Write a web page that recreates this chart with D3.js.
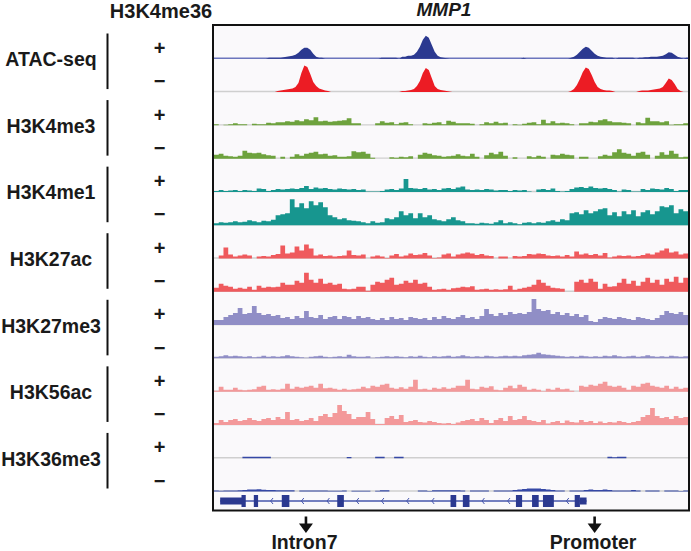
<!DOCTYPE html>
<html><head><meta charset="utf-8">
<script src="https://cdn.jsdelivr.net/npm/d3@7"></script>
<style>html,body{margin:0;padding:0;background:#fff;}svg{display:block;}</style>
</head><body>
<svg id="chart" width="691" height="551"></svg>
<script>
// ---------- DATA ----------
const markNames = ["ATAC-seq","H3K4me3","H3K4me1","H3K27ac","H3K27me3","H3K56ac","H3K36me3"];
const strandLabels = ["+","\u2212"];
const headerLabel = "H3K4me36";
const geneName = "MMP1";
const regionKb = [0, 10];

// ATAC-seq, 160 bins across the window
const atacPlus = [0,0,0,0,0,0,0,0,0,0, 0,0,0,0,0,0,0,0,1,1, 1,1,1,1.5,2,2.5,3,4,6,9, 11,11,9,5,2,1,1,0,0,0, 0,0,0,0,0,0,0,0,0,0, 0,0,0,0,0,0,1,1,1,1, 1,1,0,2,2,3,3,4,7,12, 19,23,21,14,7,3,1.5,1,0.5,0, 0,0,0,0,0,0,0,0,0,0, 0,0,0,0,0,0,0,0,0,0, 0,0,0,0,1,0,0,0,0,0, 0,0,0,0,0,0,0,0,0,0, 1,2,4,7,10,12,11,8,5,3, 2,1.5,1,1,1,0,1,1,1,1, 1,1,0,1,1,1.5,1.5,2,2,2, 2.5,3,4.5,6.5,6,4,2,1,0,1];
const atacMinus = [0,0,0,0,0,0,0,0,0,0, 0,0,0,0,0,0,0,0,0,0, 0,1,1.5,2,2.5,3,3.5,5,9,19, 26.5,25,18,10,6,3.5,2.5,1.5,1,0, 0,0,0,0,0,0,0,0,0,0, 0,0,0,0,0,0,0,0,0,0, 0,0,0,1,1,1.5,2,3,6,11, 19,24,22,14,6,3,2,1.5,1,0.5, 0,0,0,0,0,0,0,0,0,0, 0,0,0,0,0,0,0,0,0,0, 0,0,0,0,0,0,0,0,0,0, 0,0,0,0,0,0,0,0,0,0, 1,3,7,13,20,24.5,23,17,10,5, 3,2,1.5,1.5,1,0,0,0,0,0, 0,0,0,1,1.5,1.5,1.5,2,2.5,3, 3.5,5,9,13.5,12,8,3,1,0,0];

// histone tracks, 100 bins across the window
const k4me3Plus = [1,0,0.5,1,2,1,1,0,1.5,1, 1,2.5,2,3,3,4,3.5,5,4,6, 5,8,4,4.5,3.5,4,4.5,5,7,2, 2,0,0,0,2,4,2.5,3,1,2.5, 3,1,0,0,2,1.5,2.5,3,1,4.5, 3.5,2,2,2,1.5,0,1,3,2,3.5, 2,2.5,0,1,0.5,1.5,2.5,3,1,5.5, 2,4,2,2.5,2,1,0,2,2,3.5, 3,5,6,4,3,3,2.5,2,0,3, 2,7.5,4,4,3,4,0.5,1,1,2];
const k4me3Minus = [4,5,3,2.5,2,3,8,6,5.5,6, 4.5,3.5,3,0,2,0,2,4.5,3,5, 6,7,4.5,5,3,3.5,2,2,2.5,7.5, 6.5,7,5,1,0,0,0,1.5,1,2, 1.5,2.5,0,4,6,5,3.5,3,2,2.5, 3,4.5,3,2.5,5,2,0,3.5,6,4.5, 7,3,0,1.5,0,0,2.5,1.5,3,2, 0,4,3.5,5,4,3.5,0,2,2,0, 0,2.5,4,3,6.5,9.5,6,5,3,6, 7,4,0,3,6.5,4,8,5,1.5,2];
const k4me1Plus = [1,2,1,1.5,2,1,2,1.5,1,3.5, 3,1,2,3,2.5,3,3.5,3,4,6, 3,4.5,3.5,4,3,2.5,3.5,3,2.5,3, 2,2.5,0.5,0.5,0.5,1,2.5,3,2,3.5, 13,4,3.5,3,4,2.5,3,2,3.5,4, 3,4.5,5.5,2.5,2,2.5,2,3,2.5,1.5, 2,2,1,2,1.5,2,0.5,0,2.5,3, 2,3.5,1,0.5,1,3,4.5,5,4,5.5, 4,3.5,4,3,2,0.5,2.5,2,0.5,0.5, 3,2,3.5,3,2.5,4,3,1,2,2];
const k4me1Minus = [2,3,2.5,3,4,3,3.5,5,4,3, 4.5,4,5.5,10,11,12,26,18,22,17, 24,20,23,18,10,8,6,7,5,4.5, 4,3,2,4,2.5,3,7,6,8,14, 10,12,7,12,8,10,6,5,4,6, 8,5,4,2,2,1.5,2.5,2,1.5,3, 5,2,3,2,1,2.5,3,2,3,2.5, 4,5,3.5,6,5,12,13,11,15,12, 14,16,17,10,13,9,14,11,15,9, 13,15,11,14,19,18,20,12,16,14];
const k27acPlus = [0,3,11,4,2,3,4,3,0,2, 2.5,2,3.5,4.5,13,5,6,12,8,14, 10,3,4,2.5,3,2,2.5,3,8,3.5, 3,4,0,2,3,2,0.5,3,4.5,2, 3,5,3.5,4,5.5,3,0.5,1,4,5, 2,4,5,6,5,3.5,4.5,3,2.5,0, 2,2,0,2.5,2,2.5,4.5,4,5,4.5, 3,2.5,3,2,3.5,2,7,4,5,3.5, 4.5,3,5.5,1,2,3,2.5,3,2,2.5, 3.5,5,4,6,8,10,6,7,4,5];
const k27acMinus = [4,8,6,5,3,4,3,5,2,6, 4,5,4.5,5,9,7,7,11,9,19, 12,9,13,8,9,7,8,3,2.5,3, 5,5,1,7,10,9,12,14,7,8, 11,9,12,8,9,5,2,2.5,3,2, 3.5,4,5,4.5,5.5,2,2.5,3,2,2.5, 2,2.5,6,2,3,4,5,7,12,9, 6,4,3.5,3,0,0,10,12,9,13, 10,3,8,5,5.5,9,13,8,11,6, 10,14,9,12,7,13,10,15,9,14];
const k27me3Plus = [5,5,8,10,12,17,11,12,19,12, 10,11,9,10,7,8,6,9,7,14, 8,7,10,6,8,9,6,9,8,6, 9,7,8,6,5,7,5,8,6,7, 5,8,7,6,7,5,8,6,9,7, 6,8,10,7,8,6,9,16,11,9, 12,10,13,11,12,11,13,26,16,14, 15,11,13,10,12,9,11,8,10,4, 3,6,8,7,6,8,7,6,5,8, 7,6,5,7,10,14,12,11,13,10];
const k27me3Minus = [1.5,2,3,2,2.5,2,1.5,2,1,1.5, 2.5,1.5,2,1.5,2,3,2,1.5,1,0.5, 1.5,2,2.5,1.5,1,1.5,2,1.5,3.5,2, 1.5,1.5,2,0.5,1,1.5,2,1.5,2,1.5, 1,2,1.5,2.5,1.5,1,2,1.5,2,2.5, 1.5,2,3,2,1.5,2,1.5,2.5,2,1.5, 2,2.5,2,2.5,2,3,3.5,4,5.5,4, 3.5,3,2.5,2,1.5,2,1.5,2.5,2,1.5, 2,1.5,2.5,2,3,2,1.5,2,2.5,1.5, 2,3,2,1.5,2,1.5,2.5,2,1.5,2];
const k56acPlus = [1,5,2,2,4,2,1.5,2,2.5,5, 6,2,2.5,2,3,8,3,5,4,5, 6,4,8,3.5,4,3,2,3,2,2.5, 3,5,3.5,6,5,7,8,4,3,4.5, 3,5,12,2.5,3,2,4,3,4.5,3, 4,6,6,12,3,2.5,5,4,5.5,2, 1.5,4,6,3.5,7,5,2,3,2,0.5, 3,2,4,2.5,3,1,0,6,5,7, 6,8,10,6,5,6,4,2,6,5, 8,9,6,5,4,6,3,5,3,4];
const k56acMinus = [2,5,3,5,6,4,5,7,5,4, 6,7,5,8,6,13,5,6,4,5, 7,4,9,11,8,12,20,14,11,6, 8,8,13,6,1,1,7,9,6,10, 3,4,5,3,2.5,4,3,2,1.5,2, 1,2.5,4,5,6,4,7,5,2,5, 7,4,9,5,6,9,5,4,3,5, 1.5,3,4,2,4.5,3,2.5,5,3,4, 2,3.5,2,3,2.5,4,3,2,3,4, 8,10,17,9,7,8,6,9,7,8];
const k36me3Plus = [0,0,0,0,0,0,1.5,1.5,1.5,1.5, 1.5,1.5,0,0,0,0,0,0,0,0, 0,0,0,0,0,0,0,0,1.2,0, 0,0,0,0,1.5,1.5,0,0,1.5,1.5, 0,0,0,0,0,0,0,0,0,0, 0,0,0,0,0,0,0,0,0,0, 0,0,0,0,0,0,0,0,0,0, 0,0,0,0,0,0,0,0,0,0, 0,0,0,1.5,1,1.5,1.5,0,0,0, 0,0,0,0,0,0,0,0,0,0];
const k36me3Minus = [1,0.8,1,1,1,1.2,1.5,2,2,2.2, 1.8,1.5,1.5,1.3,1.2,1.2,1.2,0,1,1, 1,1,1,1,0.8,0.8,0.8,1,0,0.8, 0.8,0.8,0.8,0,0.8,1.2,1.2,0,0,0, 0,0,0,1,1,0.5,1.2,1.2,1.2,1.2, 1.2,1.2,1,0,1,1,1,1,0,1, 1,1,1,1.5,2,2.5,3,3,3,2.5, 2,1.5,1,1,0,1,1,1,1.5,2, 1.5,1.5,2,1.5,1,1,1,1,1.5,1, 0,1,1,1,0,1,1,1,0.5,1];

// gene model (kb within window)
const geneSpan = [0.13, 7.86];
const utrStart = [0.13, 7.72];
const utrEnd = [0.61, 7.86];
const exonStart = [0.58, 0.84, 1.43, 2.60, 4.99, 5.25, 6.37, 6.71, 6.94, 7.61];
const exonEnd = [0.67, 0.93, 1.59, 2.74, 5.11, 5.39, 6.50, 6.85, 7.17, 7.72];
const chevronPos = [1.22, 1.87, 2.41, 3.03, 3.56, 4.09, 4.62, 5.68, 6.22, 7.46];
const arrowPos = [1.94, 8.03];
const arrowLabels = ["Intron7", "Promoter"];

// ---------- LAYOUT / STYLE ----------
const markColors = ["#2b3990","#6da23d","#17968f","#ef5a5d","#908ec6","#f3999a","#3548a6"];
const atacMinusColor = "#ec1c24";
const frame = {left:213, top:25, right:689, bottom:510.5};
const trackTop = 25.5, trackH = (491.5 - 25.5) / 14;
const font = "'Liberation Sans', Arial, Helvetica, sans-serif";

const svg = d3.select("#chart");
const x = d3.scaleLinear().domain(regionKb).range([214, 688]);
const y = d3.scaleLinear().domain([0, 30]).range([0, 30]);

const seriesByTrack = [
  atacPlus, atacMinus, k4me3Plus, k4me3Minus, k4me1Plus, k4me1Minus,
  k27acPlus, k27acMinus, k27me3Plus, k27me3Minus, k56acPlus, k56acMinus,
  k36me3Plus, k36me3Minus
];

// track backgrounds
svg.append("rect").attr("x", 214).attr("y", 26).attr("width", 474).attr("height", 484)
  .attr("fill", "#faf9fb");

seriesByTrack.forEach((vals, k) => {
  const base = trackTop + (k + 1) * trackH;
  const mark = Math.floor(k / 2);
  const isAtac = mark === 0;
  const color = (k === 1) ? atacMinusColor : markColors[mark];
  const n = vals.length;
  const step = (regionKb[1] - regionKb[0]) / n;
  const pts = vals.map((v, i) => ({pos: regionKb[0] + (i + 0.5) * step, v}));
  const padded = [{pos: regionKb[0], v: vals[0]}, ...pts, {pos: regionKb[1], v: vals[n - 1]}];
  svg.append("line").attr("x1", 214).attr("x2", 688).attr("y1", base - 0.5).attr("y2", base - 0.5)
    .attr("stroke", k === 0 ? "#6c76bd" : "#cfcfcf").attr("stroke-width", k === 0 ? 1.6 : 1.4);
  const area = d3.area()
    .x(d => x(d.pos))
    .y0(base)
    .y1(d => base - y(d.v))
    .curve(isAtac ? d3.curveLinear : d3.curveStep);
  svg.append("path").datum(padded).attr("d", area).attr("fill", color);
});

// gene model
const gy = 501;
const gm = svg.append("g");
gm.append("line").attr("x1", x(geneSpan[0])).attr("x2", x(geneSpan[1]))
  .attr("y1", gy).attr("y2", gy).attr("stroke", "#4656ad").attr("stroke-width", 1.3);
gm.selectAll("path.chev").data(chevronPos).enter().append("path")
  .attr("d", d => `M${x(d) + 1.2},${gy - 3} L${x(d) - 1.2},${gy} L${x(d) + 1.2},${gy + 3}`)
  .attr("fill", "none").attr("stroke", "#4656ad").attr("stroke-width", 1);
gm.selectAll("rect.utr").data(utrStart).enter().append("rect")
  .attr("x", (d, i) => x(d)).attr("width", (d, i) => x(utrEnd[i]) - x(d))
  .attr("y", gy - 3.5).attr("height", 7).attr("fill", "#2b3990");
gm.selectAll("rect.exon").data(exonStart).enter().append("rect")
  .attr("x", d => x(d)).attr("width", (d, i) => x(exonEnd[i]) - x(d))
  .attr("y", gy - 6).attr("height", 12).attr("fill", "#2b3990");

// frame
svg.append("rect").attr("x", frame.left).attr("y", frame.top)
  .attr("width", frame.right - frame.left).attr("height", frame.bottom - frame.top)
  .attr("fill", "none").attr("stroke", "#111").attr("stroke-width", 2);

// header texts
svg.append("text").attr("x", 161).attr("y", 18).attr("text-anchor", "middle")
  .attr("font-family", font).attr("font-weight", "bold").attr("font-size", 20).attr("fill", "#1a1a1a")
  .text(headerLabel);
svg.append("text").attr("x", 444).attr("y", 16).attr("text-anchor", "middle")
  .attr("font-family", font).attr("font-weight", "bold").attr("font-style", "italic")
  .attr("font-size", 19).attr("fill", "#1a1a1a").text(geneName);

// left labels, bars, strand signs
markNames.forEach((name, g) => {
  const gTop = trackTop + 2 * g * trackH;
  const gBot = gTop + 2 * trackH;
  const gc = (gTop + gBot) / 2;
  svg.append("text").attr("x", 51).attr("y", gc + 7.5).attr("text-anchor", "middle")
    .attr("font-family", font).attr("font-weight", "bold").attr("font-size", 19.5).attr("fill", "#1a1a1a")
    .text(name);
  svg.append("line").attr("x1", 107.5).attr("x2", 107.5).attr("y1", gTop + 8).attr("y2", gBot - 3)
    .attr("stroke", "#111").attr("stroke-width", 2);
  strandLabels.forEach((s, j) => {
    const tc = gTop + (j + 0.5) * trackH;
    svg.append("text").attr("x", 159.5).attr("y", tc + 12.8).attr("text-anchor", "middle")
      .attr("font-family", font).attr("font-weight", "bold").attr("font-size", 20).attr("fill", "#1a1a1a")
      .text(s);
  });
});

// arrows and bottom labels
arrowPos.forEach((p, i) => {
  const ax = x(p);
  svg.append("line").attr("x1", ax).attr("x2", ax).attr("y1", 516.5).attr("y2", 525)
    .attr("stroke", "#111").attr("stroke-width", 2.6);
  svg.append("path").attr("d", `M${ax - 7},${523.5} L${ax + 7},${523.5} L${ax},${533} Z`).attr("fill", "#111");
  svg.append("text").attr("x", ax - 1.5).attr("y", 548.5).attr("text-anchor", "middle")
    .attr("font-family", font).attr("font-weight", "bold").attr("font-size", 19.5).attr("fill", "#1a1a1a")
    .text(arrowLabels[i]);
});
</script>
</body></html>
